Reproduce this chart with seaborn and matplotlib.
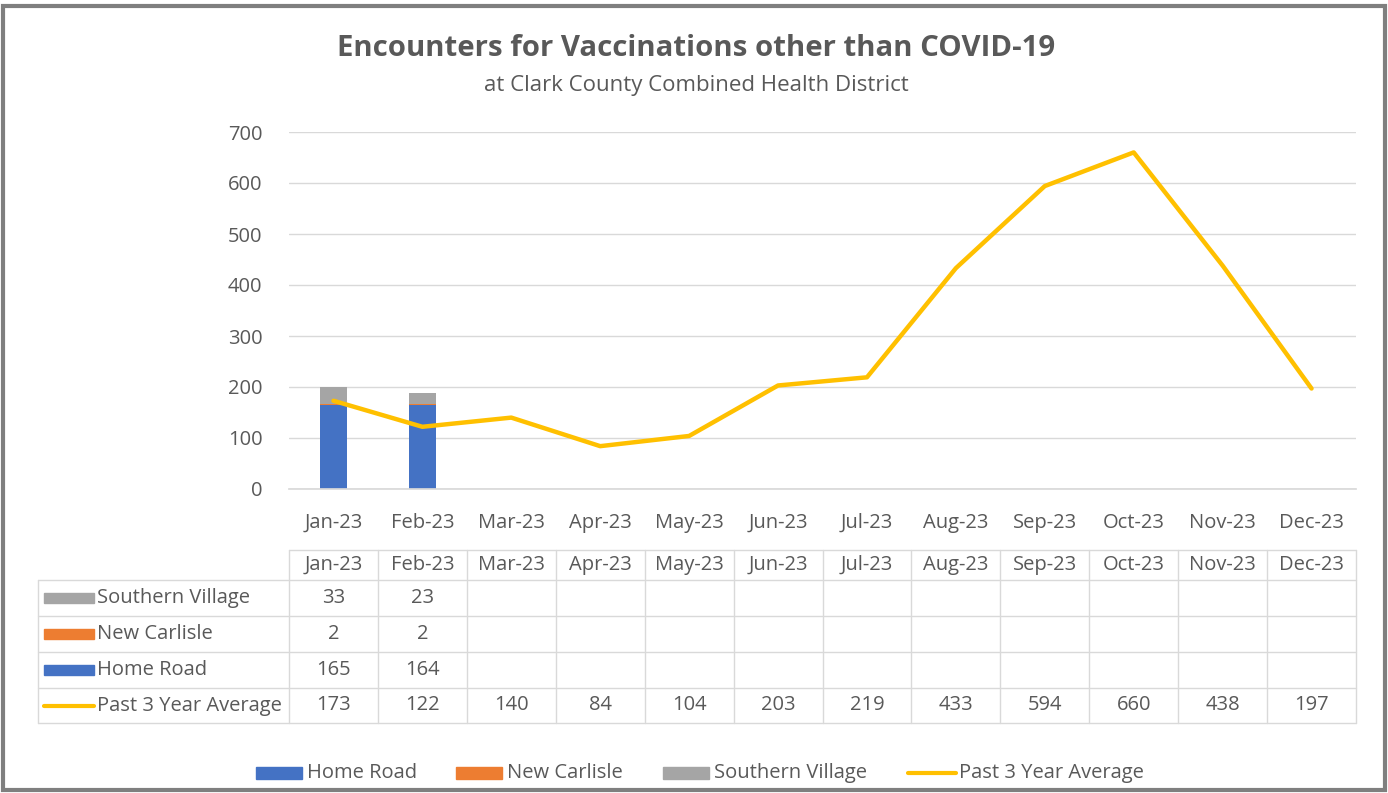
import numpy as np
import pandas as pd
import seaborn as sns
import matplotlib.pyplot as plt
from matplotlib.lines import Line2D
from matplotlib.patches import Rectangle

months = ['Jan-23', 'Feb-23', 'Mar-23', 'Apr-23', 'May-23', 'Jun-23',
          'Jul-23', 'Aug-23', 'Sep-23', 'Oct-23', 'Nov-23', 'Dec-23']
home_road = [165, 164] + [np.nan] * 10
new_carlisle = [2, 2] + [np.nan] * 10
southern_village = [33, 23] + [np.nan] * 10
past_avg = [173, 122, 140, 84, 104, 203, 219, 433, 594, 660, 438, 197]

blue, orange, grey, gold = '#4472C4', '#ED7D31', '#A5A5A5', '#FFC000'
txt = '#595959'

sns.set_theme(style='white')
plt.rcParams['font.family'] = ['Open Sans', 'DejaVu Sans']

W, H = 1388, 793
fig = plt.figure(figsize=(W / 100, H / 100), dpi=100)


def fx(x):
    return x / W


def fy(y):
    return 1 - y / H


ax = fig.add_axes([fx(289), fy(489), fx(1356) - fx(289), fy(132) - fy(489)])

df = pd.DataFrame({'month': months, 'home': home_road, 'nc': new_carlisle,
                   'sv': southern_village, 'avg': past_avg})
df['top'] = df['home'] + df['nc'] + df['sv']
df['mid'] = df['home'] + df['nc']

# stacked bars drawn as layered totals
for col, c in [('top', grey), ('mid', orange), ('home', blue)]:
    sns.barplot(data=df, x='month', y=col, order=months, color=c, width=0.3,
                saturation=1, linewidth=0, ax=ax)
sns.lineplot(data=df, x='month', y='avg', color=gold, linewidth=3.2, sort=False,
             ax=ax)

ax.set_xlim(-0.5, 11.5)
ax.set_ylim(0, 700)
ax.set_yticks(range(0, 701, 100))
ax.grid(axis='y', color='#d9d9d9', linewidth=1)
ax.set_axisbelow(True)
for s in ['left', 'right', 'top']:
    ax.spines[s].set_visible(False)
ax.spines['bottom'].set_color('#d9d9d9')
ax.set_xlabel('')
ax.set_ylabel('')
ax.set_xticks(range(12))
ax.set_xticklabels(months)
ax.set_xticks(np.arange(-0.5, 12, 1), minor=True)
ax.tick_params(axis='x', which='major', length=0, pad=17, labelsize=14.5, labelcolor=txt)
ax.tick_params(axis='x', which='minor', length=7, width=1, color='#d9d9d9', direction='out')
ax.tick_params(axis='y', length=0, pad=19, labelsize=14.5, labelcolor=txt)

# title
fig.text(fx(696), fy(49), 'Encounters for Vaccinations other than COVID-19', ha='center',
         va='center', fontsize=21.2, fontweight='bold', color=txt)
fig.text(fx(696), fy(86), 'at Clark County Combined Health District', ha='center',
         va='center', fontsize=16, color=txt)

# data table
lc = '#d9d9d9'
col_x = [289 + i * (1356 - 289) / 12 for i in range(13)]
rows_y = [550, 580, 616, 652, 688, 723]


def hline(x0, x1, y):
    fig.add_artist(Line2D([fx(x0), fx(x1)], [fy(y), fy(y)], color=lc, lw=1))


def vline(x, y0, y1):
    fig.add_artist(Line2D([fx(x), fx(x)], [fy(y0), fy(y1)], color=lc, lw=1))


hline(289, 1356, rows_y[0])
for y in rows_y[1:]:
    hline(38, 1356, y)
for x in col_x:
    vline(x, rows_y[0], rows_y[-1])
vline(38, rows_y[1], rows_y[-1])

for i, m in enumerate(months):
    cx = (col_x[i] + col_x[i + 1]) / 2
    fig.text(fx(cx), fy(565), m, ha='center', va='center', fontsize=14.5, color=txt)

table_rows = [('Southern Village', southern_village, grey, 'bar'),
              ('New Carlisle', new_carlisle, orange, 'bar'),
              ('Home Road', home_road, blue, 'bar'),
              ('Past 3 Year Average', past_avg, gold, 'line')]
for r, (name, vals, col, kind) in enumerate(table_rows):
    cy = (rows_y[r + 1] + rows_y[r + 2]) / 2
    if kind == 'bar':
        fig.add_artist(Rectangle((fx(44), fy(cy + 5)), fx(50), fy(cy - 5) - fy(cy + 5),
                                 color=col, transform=fig.transFigure))
    else:
        fig.add_artist(Line2D([fx(44), fx(94)], [fy(cy), fy(cy)], color=col, lw=3))
    fig.text(fx(97), fy(cy), name, ha='left', va='center', fontsize=14.5, color=txt)
    for i, v in enumerate(vals):
        if not np.isnan(v):
            cx = (col_x[i] + col_x[i + 1]) / 2
            fig.text(fx(cx), fy(cy), f'{int(v)}', ha='center', va='center',
                     fontsize=14.5, color=txt)

# legend
leg = [('Home Road', blue, 'bar', 256), ('New Carlisle', orange, 'bar', 456),
       ('Southern Village', grey, 'bar', 663), ('Past 3 Year Average', gold, 'line', 908)]
for name, col, kind, x0 in leg:
    if kind == 'bar':
        fig.add_artist(Rectangle((fx(x0), fy(779)), fx(46), fy(767) - fy(779),
                                 color=col, transform=fig.transFigure))
    else:
        fig.add_artist(Line2D([fx(x0), fx(x0 + 48)], [fy(773), fy(773)], color=col, lw=3))
    fig.text(fx(x0 + 51), fy(773), name, ha='left', va='center', fontsize=14.5, color=txt)

# outer frame
fig.add_artist(Rectangle((fx(3), fy(790)), fx(1382), fy(6) - fy(790), fill=False,
                         edgecolor='#7f7f7f', lw=3, transform=fig.transFigure))

fig.savefig('out.png', dpi=100)
